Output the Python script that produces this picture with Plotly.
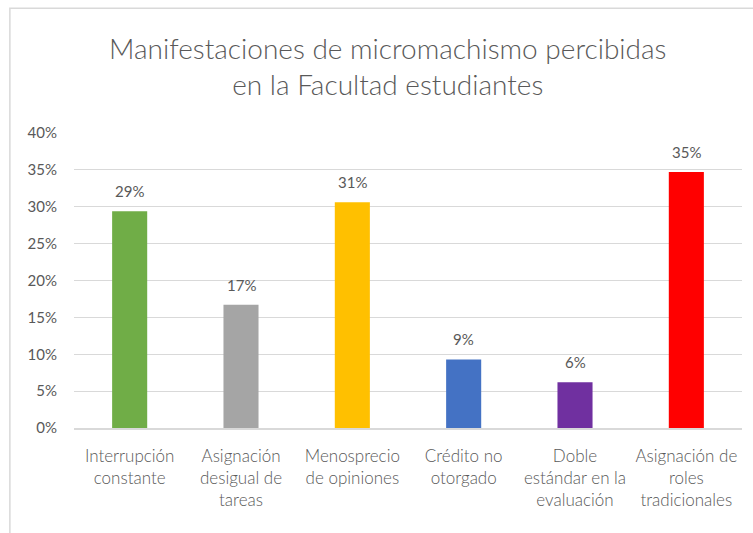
import plotly.graph_objects as go

categories = [
    "Interrupción<br>constante",
    "Asignación<br>desigual de<br>tareas",
    "Menosprecio<br>de opiniones",
    "Crédito no<br>otorgado",
    "Doble<br>estándar en la<br>evaluación",
    "Asignación de<br>roles<br>tradicionales",
]
values = [0.294, 0.167, 0.306, 0.093, 0.062, 0.347]
colors = ["#70AD47", "#A5A5A5", "#FFC000", "#4472C4", "#7030A0", "#FF0000"]
y_ticks = [0, 0.05, 0.10, 0.15, 0.20, 0.25, 0.30, 0.35, 0.40]
title_text = "Manifestaciones de micromachismo percibidas<br>en la Facultad estudiantes"

FONT = "Lato"
GRAY = "#595959"

fig = go.Figure()
fig.add_trace(go.Bar(
    x=categories,
    y=values,
    marker=dict(color=colors, line=dict(width=0)),
    width=0.315,
    hoverinfo="skip",
))

for c, v in zip(categories, values):
    fig.add_annotation(
        x=c, y=v, text=f"{round(v * 100):d}%", showarrow=False,
        yanchor="bottom", yshift=9,
        font=dict(family=FONT, size=15, color=GRAY),
    )

# outer chart border
fig.add_shape(type="rect", xref="paper", yref="paper",
              x0=-0.096, x1=1.05, y0=-0.4, y1=1.423,
              line=dict(color="#D9D9D9", width=1.5), fillcolor="rgba(0,0,0,0)",
              layer="below")

fig.update_layout(
    width=753, height=533,
    margin=dict(l=74, r=11, t=133, b=105),
    paper_bgcolor="white", plot_bgcolor="white",
    showlegend=False,
    title=dict(text=title_text, x=0.515, xanchor="center", xref="container",
               y=0.890, yanchor="middle", yref="container",
               font=dict(family=FONT, size=28, color=GRAY, weight=300)),
    font=dict(family=FONT, color=GRAY),
)
fig.update_yaxes(
    range=[0, 0.40], tickvals=y_ticks, tickformat=".0%",
    showgrid=True, gridcolor="#D9D9D9", gridwidth=1,
    zeroline=False, showline=False, ticks="",
    tickfont=dict(family=FONT, size=15, color=GRAY),
    ticklabelstandoff=16,
)
fig.update_xaxes(
    showline=True, linecolor="#D9D9D9", linewidth=1.5,
    ticks="", tickfont=dict(family=FONT, size=17, color=GRAY, weight=300),
    ticklabelstandoff=12, tickangle=0,
)

fig.write_html("out.html", config={"displayModeBar": False},
               post_script="document.body.style.margin='0';")
